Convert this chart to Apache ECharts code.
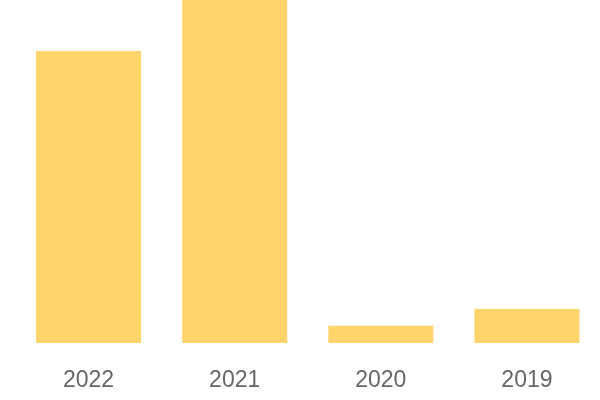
<!DOCTYPE html>
<html>
<head>
<meta charset="utf-8">
<style>html,body{margin:0;padding:0;background:#fff}#c{width:600px;height:400px}</style>
<script src="https://cdn.jsdelivr.net/npm/echarts@6/dist/echarts.min.js"></script>
</head>
<body>
<div id="c"></div>
<script>
const categories = ['2022', '2021', '2020', '2019'];
const values = [85.1, 100, 5.0, 9.9];

const chart = echarts.init(document.getElementById('c'), null, {renderer: 'canvas'});
chart.setOption({
  animation: false,
  grid: {left: 15.5, right: 0, top: 0, bottom: 57},
  xAxis: {
    type: 'category',
    data: categories,
    axisLine: {show: false},
    axisTick: {show: false},
    axisLabel: {fontFamily: 'Liberation Sans', fontSize: 23, color: '#666666', margin: 26}
  },
  yAxis: {
    type: 'value',
    min: 0,
    max: 100,
    show: false,
    splitLine: {show: false}
  },
  series: [{
    type: 'bar',
    data: values,
    barWidth: 105,
    itemStyle: {color: '#fed46b'}
  }]
});
</script>
</body>
</html>
